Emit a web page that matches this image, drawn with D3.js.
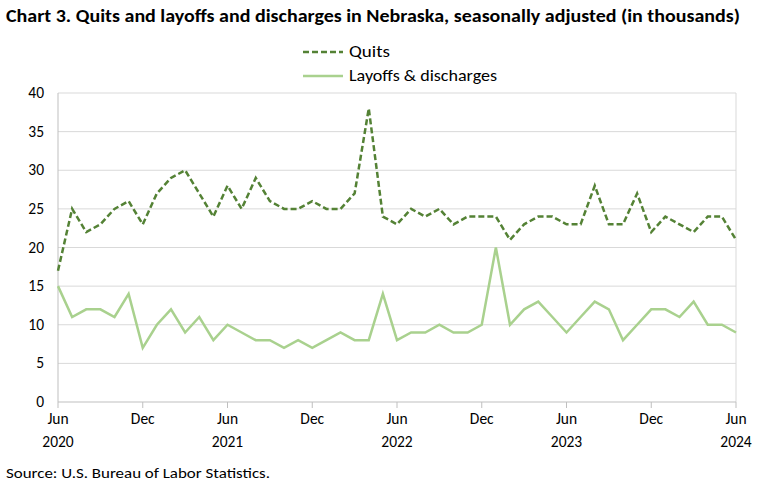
<!DOCTYPE html>
<html><head><meta charset="utf-8">
<script src="https://cdn.jsdelivr.net/npm/d3@7"></script>
<style>body{margin:0;background:#fff;font-family:Calibri,Carlito,Lato,"Liberation Sans",Arial,sans-serif;}</style>
</head><body><svg id="c" width="780" height="488"></svg>
<script>
const months = d3.range(49).map(i => new Date(2020, 5 + i, 1));
const quits = [17,25,22,23,25,26,23, 27,29,30,27,24,28,25,29,26,25,25,26, 25,25,27,38,24,23,25,24,25,23,24,24, 24,21,23,24,24,23,23,28,23,23,27,22, 24,23,22,24,24,21];
const layoffs = [15,11,12,12,11,14,7, 10,12,9,11,8,10,9,8,8,7,8,7, 8,9,8,8,14,8,9,9,10,9,9,10, 20,10,12,13,11,9,11,13,12,8,10,12, 12,11,13,10,10,9];
const yTicks = [0,5,10,15,20,25,30,35,40];
const tickLabels = ["Jun","Dec","Jun","Dec","Jun","Dec","Jun","Dec","Jun"];
const yearLabels = {0:"2020",2:"2021",4:"2022",6:"2023",8:"2024"};

const svg = d3.select("#c");
const x = d3.scaleLinear().domain([0,48]).range([58,736]);
const y = d3.scaleLinear().domain([0,40]).range([402,93]);

svg.append("text").attr("x",6).attr("y",22).attr("font-weight","bold").attr("font-size",17).attr("fill","#000")
  .attr("textLength",734).attr("lengthAdjust","spacingAndGlyphs")
  .text("Chart 3. Quits and layoffs and discharges in Nebraska, seasonally adjusted (in thousands)");

const g = svg.append("g");
g.selectAll(".gl").data(yTicks.slice(1)).enter().append("line")
  .attr("x1",58).attr("x2",736).attr("y1",d=>y(d)).attr("y2",d=>y(d)).attr("stroke","#d9d9d9");
g.append("line").attr("x1",736).attr("x2",736).attr("y1",93).attr("y2",402).attr("stroke","#d9d9d9");
g.append("line").attr("x1",58).attr("x2",58).attr("y1",93).attr("y2",402).attr("stroke","#bfbfbf");
g.append("line").attr("x1",58).attr("x2",736).attr("y1",402).attr("y2",402).attr("stroke","#bfbfbf");
g.selectAll(".yt").data(yTicks).enter().append("text").attr("x",44).attr("y",d=>y(d)+5)
  .attr("text-anchor","end").attr("font-size",15.5).attr("fill","#000").text(d=>d);
tickLabels.forEach((t,i)=>{
  const xi = x(i*6);
  g.append("line").attr("x1",xi).attr("x2",xi).attr("y1",402).attr("y2",408).attr("stroke","#bfbfbf");
  g.append("text").attr("x",xi).attr("y",424).attr("text-anchor","middle").attr("font-size",15.5).text(t);
  if (yearLabels[i]) g.append("text").attr("x",xi).attr("y",447).attr("text-anchor","middle").attr("font-size",15.5).text(yearLabels[i]);
});

const line = d3.line().x((d,i)=>x(i)).y(d=>y(d));
g.append("path").datum(layoffs).attr("d",line).attr("fill","none").attr("stroke","#a9d18e").attr("stroke-width",2.5);
g.append("path").datum(quits).attr("d",line).attr("fill","none").attr("stroke","#548235").attr("stroke-width",2.5).attr("stroke-dasharray","6,3");

const leg = svg.append("g");
leg.append("line").attr("x1",303).attr("x2",343).attr("y1",52).attr("y2",52).attr("stroke","#548235").attr("stroke-width",2.5).attr("stroke-dasharray","6,3");
leg.append("text").attr("x",349).attr("y",57).attr("font-size",16).attr("textLength",41).attr("lengthAdjust","spacingAndGlyphs").text("Quits");
leg.append("line").attr("x1",303).attr("x2",343).attr("y1",76).attr("y2",76).attr("stroke","#a9d18e").attr("stroke-width",2.5);
leg.append("text").attr("x",349).attr("y",81).attr("font-size",16).attr("textLength",148).attr("lengthAdjust","spacingAndGlyphs").text("Layoffs & discharges");

svg.append("text").attr("x",6).attr("y",478).attr("font-size",15).attr("textLength",264).attr("lengthAdjust","spacingAndGlyphs").text("Source: U.S. Bureau of Labor Statistics.");
</script></body></html>
